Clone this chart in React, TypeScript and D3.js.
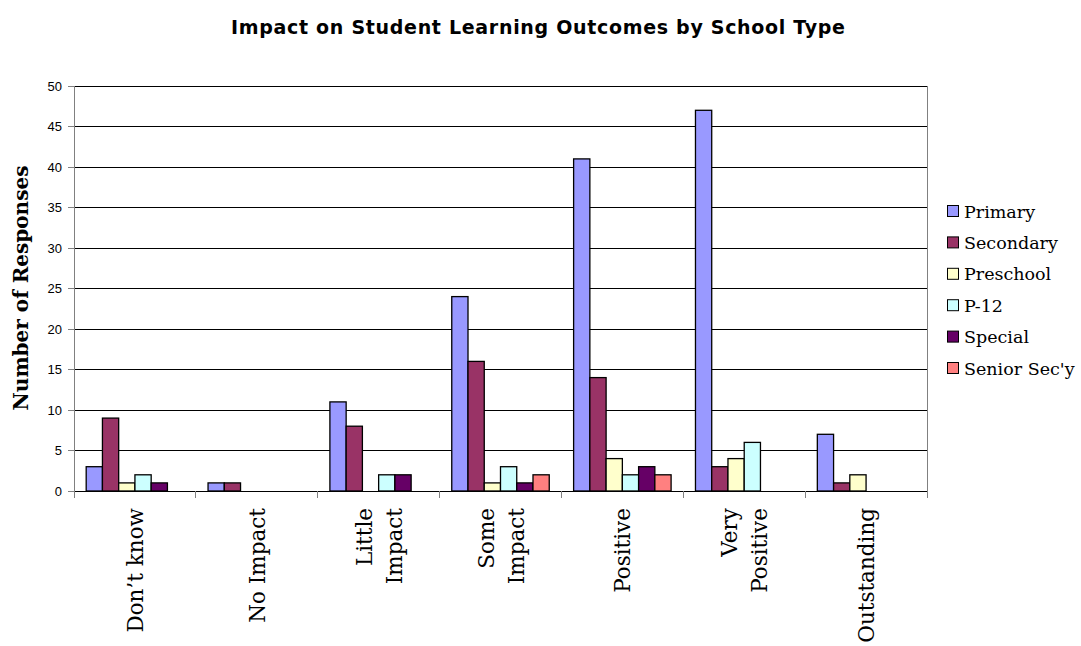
import React from "react";
import * as d3 from "d3";

const categories: string[][] = [
  ["Don’t know"],
  ["No Impact"],
  ["Little", "Impact"],
  ["Some", "Impact"],
  ["Positive"],
  ["Very", "Positive"],
  ["Outstanding"],
];
const seriesNames = ["Primary", "Secondary", "Preschool", "P-12", "Special", "Senior Sec'y"];
const seriesColors = ["#9999FF", "#993366", "#FFFFCC", "#CCFFFF", "#660066", "#FF8080"];
const primary = [3, 1, 11, 24, 41, 47, 7];
const secondary = [9, 1, 8, 16, 14, 3, 1];
const preschool = [1, 0, 0, 1, 4, 4, 2];
const p12 = [2, 0, 2, 3, 2, 6, 0];
const special = [1, 0, 2, 1, 3, 0, 0];
const seniorSec = [0, 0, 0, 2, 2, 0, 0];
const yTicks = [0, 5, 10, 15, 20, 25, 30, 35, 40, 45, 50];

const series = [primary, secondary, preschool, p12, special, seniorSec];

export default function App() {
  const W = 1081, H = 646;
  const left = 74, right = 927, top = 86, bottom = 491;
  const x = d3.scaleBand<number>().domain(d3.range(categories.length)).range([left, right]).paddingInner(0).paddingOuter(0);
  const inner = d3.scaleBand<number>().domain(d3.range(series.length)).range([0, x.bandwidth()]).paddingOuter(0.75).paddingInner(0);
  const y = d3.scaleLinear().domain([0, 50]).range([bottom, top]);

  return (
    <svg width={W} height={H} style={{ position: "absolute", left: 0, top: 0 }}>
      <rect x={0} y={0} width={W} height={H} fill="#fff" />
      <text x={538} y={34} textAnchor="middle" fontFamily="DejaVu Sans" fontWeight="bold" fontSize={19}
        textLength={614} lengthAdjust="spacing" fill="#000">
        Impact on Student Learning Outcomes by School Type
      </text>
      {yTicks.map((t) => (
        <g key={t}>
          {t > 0 && <line x1={left} x2={right} y1={y(t)} y2={y(t)} stroke="#000" strokeWidth={1} shapeRendering="crispEdges" />}
          <line x1={left - 6} x2={left} y1={y(t)} y2={y(t)} stroke="#808080" shapeRendering="crispEdges" />
          <text x={left - 12} y={y(t) + 4.5} textAnchor="end" fontFamily="Liberation Sans" fontSize={13} fill="#000">{t}</text>
        </g>
      ))}
      <line x1={right} x2={right} y1={top} y2={bottom} stroke="#808080" shapeRendering="crispEdges" />
      {series.map((vals, si) =>
        vals.map((v, ci) =>
          v > 0 ? (
            <rect key={`${si}-${ci}`} x={(x(ci) as number) + (inner(si) as number)} y={y(v)} width={inner.bandwidth()} height={y(0) - y(v)}
              fill={seriesColors[si]} stroke="#000" strokeWidth={1.3} />
          ) : null
        )
      )}
      <line x1={left} x2={left} y1={top} y2={bottom} stroke="#808080" shapeRendering="crispEdges" />
      <line x1={left} x2={right} y1={bottom} y2={bottom} stroke="#000" shapeRendering="crispEdges" />
      {d3.range(categories.length + 1).map((i) => {
        const xx = left + i * x.bandwidth();
        return <line key={i} x1={xx} x2={xx} y1={bottom} y2={bottom + 7} stroke="#808080" shapeRendering="crispEdges" />;
      })}
      {categories.map((lines, ci) => {
        const cx = (x(ci) as number) + x.bandwidth() / 2;
        return lines.map((ln, li) => {
          const lx = cx + (li - (lines.length - 1) / 2) * 30 + 8;
          return (
            <text key={`${ci}-${li}`} transform={`translate(${lx},${508}) rotate(-90)`} textAnchor="end"
              fontFamily="DejaVu Serif" fontSize={21.5} fill="#000">{ln}</text>
          );
        });
      })}
      <text transform={`translate(28,288) rotate(-90)`} textAnchor="middle" fontFamily="DejaVu Serif" fontWeight="bold" fontSize={20} fill="#000">
        Number of Responses
      </text>
      {seriesNames.map((n, i) => {
        const ly = 211 + i * 31.4;
        return (
          <g key={n}>
            <rect x={947.5} y={ly - 5.5} width={11} height={11} fill={seriesColors[i]} stroke="#000" strokeWidth={1} />
            <text x={964} y={ly + 6.5} fontFamily="DejaVu Serif" fontSize={17.5} fill="#000">{n}</text>
          </g>
        );
      })}
    </svg>
  );
}
